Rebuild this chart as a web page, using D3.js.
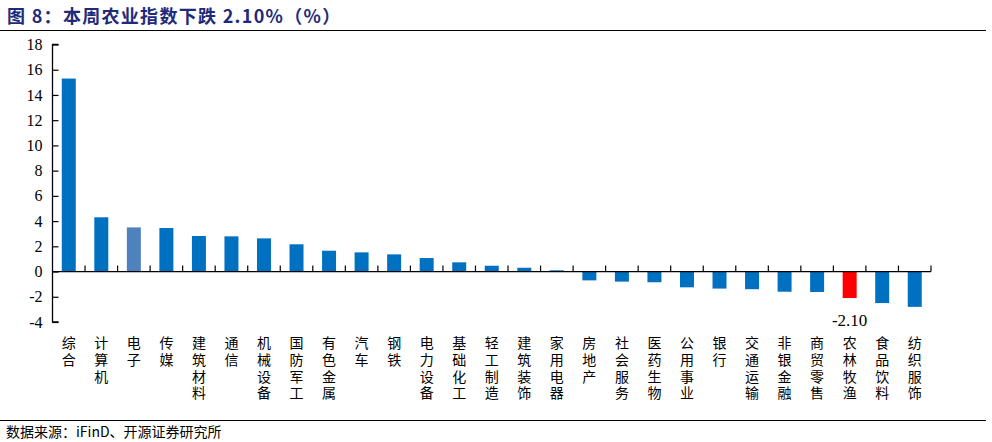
<!DOCTYPE html>
<html>
<head>
<meta charset="utf-8">
<script src="https://d3js.org/d3.v7.min.js"></script>
<style>
  body { margin: 0; background: #fff; }
  .cat { font-family: "Noto Sans CJK SC", sans-serif; font-size: 14px; fill: #000;
         writing-mode: vertical-rl; text-orientation: upright; letter-spacing: 2.6px; }
</style>
</head>
<body>
<svg id="chart" width="992" height="442"></svg>
<script>
// data
const categories = ["综合","计算机","电子","传媒","建筑材料","通信","机械设备","国防军工","有色金属","汽车",
  "钢铁","电力设备","基础化工","轻工制造","建筑装饰","家用电器","房地产","社会服务","医药生物","公用事业",
  "银行","交通运输","非银金融","商贸零售","农林牧渔","食品饮料","纺织服饰"];
const values = [15.3, 4.3, 3.5, 3.45, 2.82, 2.79, 2.63, 2.16, 1.65, 1.52,
  1.36, 1.07, 0.73, 0.46, 0.3, 0.1, -0.7, -0.8, -0.85, -1.25,
  -1.35, -1.4, -1.6, -1.62, -2.1, -2.5, -2.8];
const yTicks = [-4, -2, 0, 2, 4, 6, 8, 10, 12, 14, 16, 18];
const highlight = "农林牧渔";
const lighter = "电子";

const svg = d3.select("#chart");
const serif = "'Liberation Serif', 'Times New Roman', serif";
const hyphen = s => s.replace("\u2212", "-");

// title
svg.append("text")
   .attr("x", 7).attr("y", 23)
   .style("font-family", "'Noto Sans CJK SC', sans-serif")
   .style("letter-spacing", "1.3px")
   .attr("font-weight", "bold")
   .attr("font-size", 18)
   .attr("fill", "#1F2A7A")
   .text("图 8：本周农业指数下跌 2.10%（%）");
svg.append("line").attr("x1", 0).attr("x2", 986).attr("y1", 30.5).attr("y2", 30.5)
   .attr("stroke", "#000").attr("stroke-width", 1.2);

// footer
svg.append("line").attr("x1", 0).attr("x2", 986).attr("y1", 420.5).attr("y2", 420.5)
   .attr("stroke", "#000").attr("stroke-width", 1.2);
svg.append("text")
   .attr("x", 6).attr("y", 437)
   .style("font-family", "'Noto Sans CJK SC', sans-serif")
   .attr("font-size", 14)
   .attr("fill", "#000")
   .text("数据来源：iFinD、开源证券研究所");

const left = 52.5, right = 931;
const x = d3.scaleBand().domain(categories).range([left, right]).paddingInner(0.57).paddingOuter(0.285);
const y = d3.scaleLinear().domain([-4, 18]).range([322, 44.5]);

// bars
svg.selectAll("rect.bar").data(categories)
   .join("rect")
   .attr("class", "bar")
   .attr("x", d => x(d))
   .attr("width", x.bandwidth())
   .attr("y", (d, i) => y(Math.max(0, values[i])))
   .attr("height", (d, i) => Math.abs(y(values[i]) - y(0)))
   .attr("fill", d => d === highlight ? "#FF0000" : d === lighter ? "#4F81BD" : "#0070C0");

// y axis, ticks pointing inward
const yAxis = svg.append("g")
   .attr("transform", `translate(${left},0)`)
   .call(d3.axisLeft(y).tickValues(yTicks).tickSize(-6).tickPadding(10).tickFormat(d => hyphen(d3.format("d")(d))));
yAxis.selectAll("line").attr("stroke", "#000").attr("stroke-width", 1.2);
yAxis.select(".domain").attr("stroke", "#000").attr("stroke-width", 1.3)
   .attr("d", `M6,${y(-4)}H0V${y(18)}H6`);
yAxis.selectAll("text").style("font-family", serif).attr("font-size", 16).attr("fill", "#000");

// x axis at zero, ticks between categories pointing up
const step = x.step();
const bounds = d3.range(1, categories.length + 1).map(i => left + i * step);
svg.append("line").attr("x1", left).attr("x2", right).attr("y1", y(0)).attr("y2", y(0))
   .attr("stroke", "#000").attr("stroke-width", 1.3);
svg.selectAll("line.xtick").data(bounds)
   .join("line").attr("class", "xtick")
   .attr("x1", d => d).attr("x2", d => d)
   .attr("y1", y(0)).attr("y2", y(0) - 6)
   .attr("stroke", "#000").attr("stroke-width", 1.2);

// category labels, vertical characters
svg.selectAll("text.cat").data(categories)
   .join("text").attr("class", "cat")
   .attr("x", d => x(d) + x.bandwidth() / 2)
   .attr("y", 336)
   .text(d => d);

// data label for highlighted bar
const hi = categories.indexOf(highlight);
svg.append("text")
   .attr("x", x(highlight) + x.bandwidth() / 2)
   .attr("y", y(values[hi]) + 28)
   .attr("text-anchor", "middle")
   .style("font-family", serif)
   .attr("font-size", 17)
   .attr("fill", "#000")
   .text(hyphen(d3.format(".2f")(values[hi])));
</script>
</body>
</html>
